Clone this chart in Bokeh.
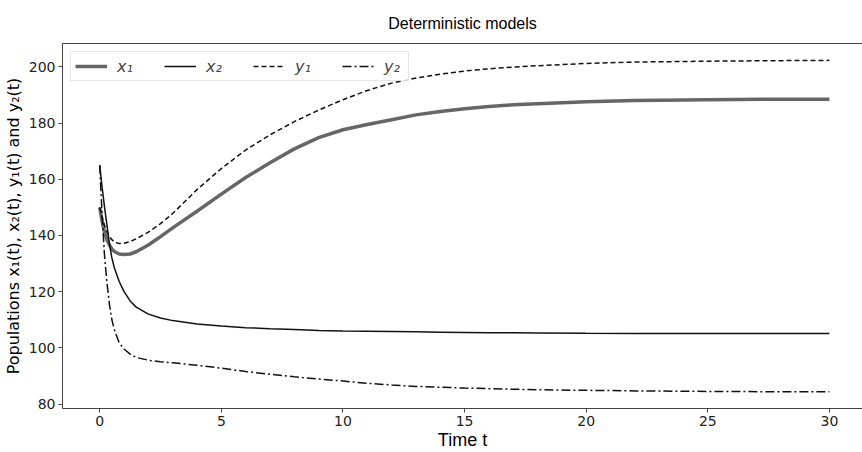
from bokeh.plotting import figure
from bokeh.models import ColumnDataSource, Range1d, LinearAxis, FixedTicker
from bokeh.embed import file_html
from bokeh.resources import INLINE

t = [0, 0.1, 0.2, 0.3, 0.4, 0.5, 0.6, 0.8, 1.0, 1.25, 1.5, 2, 2.5, 3, 4, 5, 6, 7, 8, 9, 10,
     11, 12, 13, 14, 15, 16, 17, 18, 20, 22, 25, 28, 30]
x1 = [150, 145.0, 141.0, 138.5, 136.6, 135.2, 134.3, 133.4, 133.2, 133.4, 134.2, 136.6, 139.6,
      142.7, 148.6, 154.7, 160.6, 165.9, 170.8, 174.8, 177.6, 179.5, 181.2, 182.9, 184.1, 185.1,
      185.9, 186.5, 186.9, 187.6, 188.0, 188.3, 188.5, 188.5]
x2 = [165, 157, 150, 143.5, 137, 132, 128.5, 123.6, 120, 116.7, 114.5, 112, 110.6, 109.7, 108.5,
      107.8, 107.2, 106.8, 106.5, 106.2, 106.0, 105.9, 105.8, 105.7, 105.6, 105.5, 105.4, 105.35,
      105.3, 105.2, 105.15, 105.1, 105.1, 105.1]
y1 = [150, 146.5, 143.5, 141.2, 139.6, 138.5, 137.7, 137.1, 137.2, 137.8, 138.8, 141.2, 144.2,
      147.8, 156.3, 163.8, 170.4, 175.8, 180.5, 184.6, 188.3, 191.6, 194.2, 196.0, 197.4, 198.5,
      199.3, 199.9, 200.4, 201.2, 201.7, 202.0, 202.2, 202.3]
y2 = [165, 147, 132.5, 123, 115.5, 110, 106.5, 101.8, 99.6, 97.8, 96.6, 95.6, 95.1, 94.7, 93.8,
      92.8, 91.6, 90.6, 89.7, 88.9, 88.2, 87.4, 86.8, 86.3, 86.0, 85.7, 85.5, 85.3, 85.1, 84.9,
      84.7, 84.5, 84.4, 84.4]

x_ticks = [0, 5, 10, 15, 20, 25, 30]
y_ticks = [80, 100, 120, 140, 160, 180, 200]

src = ColumnDataSource(dict(t=t, x1=x1, x2=x2, y1=y1, y2=y2))

p = figure(width=862, height=452, output_backend="svg", toolbar_location=None,
           x_range=Range1d(-1.53, 31.36), y_range=Range1d(78.43, 208.3),
           min_border_left=62, min_border_right=0, min_border_top=43, min_border_bottom=44,
           title="Deterministic models")

p.title.align = "center"
p.title.vertical_align = "bottom"
p.title.text_font = "Liberation Sans"
p.title.text_font_size = "16px"
p.title.text_font_style = "normal"
p.title.text_color = "#000000"
p.title.standoff = 24

p.grid.visible = False
p.outline_line_color = None
p.background_fill_color = "white"
p.border_fill_color = "white"

for ax in (p.xaxis[0], p.yaxis[0]):
    ax.axis_line_color = "#444444"
    ax.axis_line_width = 1
    ax.major_tick_line_color = "#444444"
    ax.major_tick_out = 4
    ax.major_tick_in = 0
    ax.minor_tick_line_color = None
    ax.major_label_text_font = "DejaVu Sans"
    ax.major_label_text_font_size = "14px"
    ax.major_label_text_color = "#222222"
    ax.axis_label_text_font_style = "normal"
    ax.axis_label_text_color = "#000000"

p.xaxis.ticker = FixedTicker(ticks=x_ticks)
p.yaxis.ticker = FixedTicker(ticks=y_ticks)
p.xaxis.axis_label = "Time t"
p.xaxis.axis_label_text_font = "Liberation Sans"
p.xaxis.axis_label_text_font_size = "18px"
p.xaxis.axis_label_standoff = 1
p.xaxis.major_label_standoff = 3

p.yaxis.axis_label = "Populations x\u2081(t), x\u2082(t), y\u2081(t) and y\u2082(t)"
p.yaxis.axis_label_text_font = "DejaVu Sans"
p.yaxis.axis_label_text_font_size = "16px"
p.yaxis.axis_label_standoff = 3
p.yaxis.major_label_standoff = 3

top = LinearAxis(ticker=FixedTicker(ticks=[]), axis_line_color="#444444",
                 major_tick_line_color=None, minor_tick_line_color=None,
                 major_label_text_font_size="0px")
p.add_layout(top, "above")

p.line("t", "x1", source=src, line_color="#666666", line_width=3.5, legend_label="x\u2081")
p.line("t", "x2", source=src, line_color="#111111", line_width=1.5, legend_label="x\u2082")
p.line("t", "y1", source=src, line_color="#111111", line_width=1.5, line_dash="5 3",
       legend_label="y\u2081")
p.line("t", "y2", source=src, line_color="#111111", line_width=1.5, line_dash="9 3 2 3",
       legend_label="y\u2082")

lg = p.legend[0]
lg.orientation = "horizontal"
lg.location = "top_left"
lg.margin = 8
lg.padding = 4
lg.spacing = 27
lg.glyph_width = 32
lg.glyph_height = 20
lg.label_standoff = 10
lg.label_width = 20
lg.label_height = 20
lg.label_text_font = "DejaVu Sans"
lg.label_text_font_style = "italic"
lg.label_text_font_size = "16px"
lg.border_line_color = "#d0d0d0"
lg.background_fill_alpha = 0.8

open("out.html", "w").write(file_html(p, INLINE))
